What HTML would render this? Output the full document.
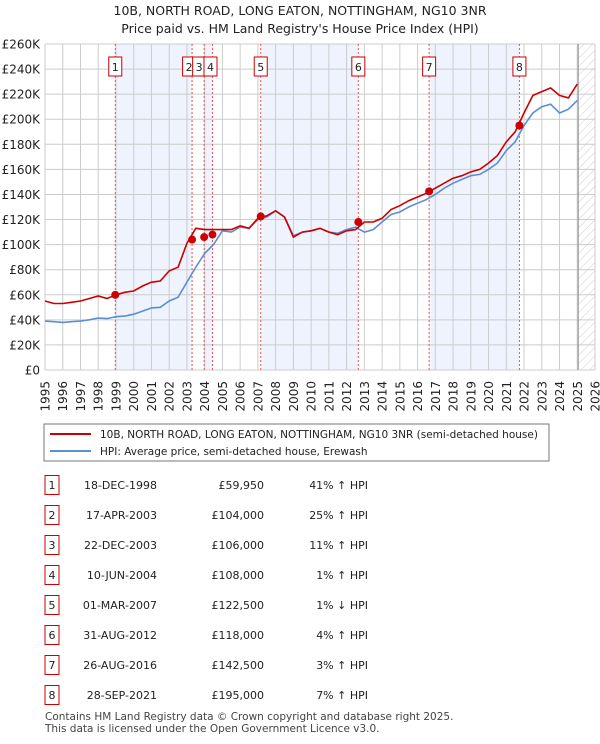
<!DOCTYPE html>
<html><head><meta charset="utf-8"><style>
body{margin:0;background:#fff;font-family:"DejaVu Sans","Liberation Sans",sans-serif;}
svg text{font-family:"DejaVu Sans","Liberation Sans",sans-serif;}
</style></head><body>
<svg id="c" width="600" height="740" xmlns="http://www.w3.org/2000/svg">
<defs><pattern id="hatch" width="6" height="6" patternUnits="userSpaceOnUse" patternTransform="rotate(45)"><line x1="0" y1="0" x2="0" y2="6" stroke="#ccc" stroke-width="1"/></pattern></defs>
<text x="300" y="15" text-anchor="middle" font-size="12.5" fill="#222">10B, NORTH ROAD, LONG EATON, NOTTINGHAM, NG10 3NR</text>
<text x="300" y="33" text-anchor="middle" font-size="12.5" fill="#222">Price paid vs. HM Land Registry's House Price Index (HPI)</text>
<g id="plot"></g>
<rect x="44" y="424" width="505" height="37" fill="#fff" stroke="#777"/>
<line x1="50" y1="434" x2="91" y2="434" stroke="#cc0000" stroke-width="2"/>
<text x="100" y="438" font-size="10.5" fill="#222">10B, NORTH ROAD, LONG EATON, NOTTINGHAM, NG10 3NR (semi-detached house)</text>
<line x1="50" y1="451" x2="91" y2="451" stroke="#5b8fd4" stroke-width="2"/>
<text x="100" y="455" font-size="10.5" fill="#222">HPI: Average price, semi-detached house, Erewash</text>
<g id="table"></g>
<text x="45" y="720" font-size="10.5" fill="#444">Contains HM Land Registry data © Crown copyright and database right 2025.</text>
<text x="45" y="732" font-size="10.5" fill="#444">This data is licensed under the Open Government Licence v3.0.</text>
</svg>
<script>
const years=[1995,1995.5,1996,1996.5,1997,1997.5,1998,1998.5,1999,1999.5,2000,2000.5,2001,2001.5,2002,2002.5,2003,2003.5,2004,2004.5,2005,2005.5,2006,2006.5,2007,2007.5,2008,2008.5,2009,2009.5,2010,2010.5,2011,2011.5,2012,2012.5,2013,2013.5,2014,2014.5,2015,2015.5,2016,2016.5,2017,2017.5,2018,2018.5,2019,2019.5,2020,2020.5,2021,2021.5,2022,2022.5,2023,2023.5,2024,2024.5,2025];
const hpiValues=[39,38.5,38,38.5,39,40,41.5,41,42.5,43,44.5,47,49.5,50,55,58,70,82,93,100,111,110,114,113,120,122,127,122,107,110,111,113,110,109,112,114,110,112,118,124,126,130,133,136,140,145,149,152,155,156,160,165,175,182,195,205,210,212,205,208,215];
const priceValues=[55,53,53,54,55,57,59,57,60,62,63,67,70,71,79,82,101,113,112,112,112,112,115,113,121,123,127,122,106,110,111,113,110,108,111,112,118,118,121,128,131,135,138,141,145,149,153,155,158,160,165,171,182,190,205,219,222,225,219,217,228];
const saleDates=[1998.96,2003.29,2003.97,2004.44,2007.16,2012.66,2016.65,2021.74];
const salePrices=[59.95,104,106,108,122.5,118,142.5,195];
const saleLabels=["1","2","3","4","5","6","7","8"];
const saleDateText=["18-DEC-1998","17-APR-2003","22-DEC-2003","10-JUN-2004","01-MAR-2007","31-AUG-2012","26-AUG-2016","28-SEP-2021"];
const salePriceText=["£59,950","£104,000","£106,000","£108,000","£122,500","£118,000","£142,500","£195,000"];
const saleHpiText=["41% ↑ HPI","25% ↑ HPI","11% ↑ HPI","1% ↑ HPI","1% ↓ HPI","4% ↑ HPI","3% ↑ HPI","7% ↑ HPI"];
const yTicks=[0,20,40,60,80,100,120,140,160,180,200,220,240,260];
const yTickLabels=["£0","£20K","£40K","£60K","£80K","£100K","£120K","£140K","£160K","£180K","£200K","£220K","£240K","£260K"];
const xTicks=[1995,1996,1997,1998,1999,2000,2001,2002,2003,2004,2005,2006,2007,2008,2009,2010,2011,2012,2013,2014,2015,2016,2017,2018,2019,2020,2021,2022,2023,2024,2025,2026];
const X0=45,X1=595,Y0=370,Y1=44;
const xs=v=>X0+(v-1995)/(2026-1995)*(X1-X0);
const ys=v=>Y0-v/260*(Y0-Y1);
const NS="http://www.w3.org/2000/svg";
function mk(tag,attrs,parent,txt){const e=document.createElementNS(NS,tag);for(const k in attrs)e.setAttribute(k,attrs[k]);if(txt!==undefined)e.textContent=txt;parent.appendChild(e);return e;}
const P=document.getElementById('plot');
// shaded bands
for(let i=0;i<saleDates.length;i+=2){
 const r=mk('rect',{x:xs(saleDates[i]),y:Y1,width:xs(saleDates[i+1])-xs(saleDates[i]),height:Y0-Y1,fill:'#eef3fd'},P);
 
 
}
const hx=xs(2025.05);
const hr=mk('rect',{x:hx,y:Y1,width:X1-hx,height:Y0-Y1,fill:'url(#hatch)'},P);


// grid
yTicks.forEach((t,i)=>{
 const l=mk('line',{x1:X0,x2:X1,y1:ys(t),y2:ys(t),stroke:'#cccccc','stroke-width':1},P);
 
 
 const tx=mk('text',{x:40,y:ys(t)+4.5,'text-anchor':'end','font-size':12,fill:'#222'},P,yTickLabels[i]);
 
 
});
xTicks.forEach(t=>{
 const l=mk('line',{x1:xs(t),x2:xs(t),y1:Y1,y2:Y0,stroke:'#cccccc','stroke-width':1},P);
 
 
 const tx=mk('text',{x:0,y:0,'text-anchor':'end','font-size':12,fill:'#222',transform:`translate(${xs(t)+4.5},381) rotate(-90)`},P,String(t));
 
 
});
const vl=mk('line',{x1:hx,x2:hx,y1:Y1,y2:Y0,stroke:'#888','stroke-width':1},P);


// sale dashed lines
saleDates.forEach(d=>{
 const l=mk('line',{x1:xs(d),x2:xs(d),y1:Y1,y2:Y0,stroke:'#ee5555','stroke-width':1,'stroke-dasharray':'2,2'},P);
 
 
});
// series
const pts=arr=>arr.map((v,i)=>xs(years[i]).toFixed(1)+','+ys(v).toFixed(1)).join(' ');
const hl=mk('polyline',{points:pts(hpiValues),fill:'none',stroke:'#5b8fd4','stroke-width':1.6},P);


const pl=mk('polyline',{points:pts(priceValues),fill:'none',stroke:'#cc0000','stroke-width':1.6},P);


const lblShift=[0,-3,-5,-2,0,0,0,0];
saleDates.forEach((d,i)=>{
 const c=mk('circle',{cx:xs(d),cy:ys(salePrices[i]),r:4,fill:'#cc0000'},P);
 
 
 const cx=xs(d)+lblShift[i]*1;
 const b=mk('rect',{x:cx-6.5,y:57,width:13,height:19,fill:'#fff',stroke:'#cc0000','stroke-width':1},P);
 
 
 const t=mk('text',{x:cx,y:71,'text-anchor':'middle','font-size':11,fill:'#222'},P,saleLabels[i]);
 
 
});
// table
const T=document.getElementById('table');
saleLabels.forEach((s,i)=>{
 const cy=485+i*30.0;
 const b=mk('rect',{x:45,y:cy-9.5,width:14,height:19,fill:'#fff',stroke:'#cc0000','stroke-width':1},T);
 
 
 const n=mk('text',{x:52,y:cy+4,'text-anchor':'middle','font-size':11,fill:'#222'},T,s);
 
 
 const d=mk('text',{x:157,y:cy+4,'text-anchor':'end','font-size':11,fill:'#222'},T,saleDateText[i]);
 
 
 const p=mk('text',{x:264,y:cy+4,'text-anchor':'end','font-size':11,fill:'#222'},T,salePriceText[i]);
 
 
 const h=mk('text',{x:368,y:cy+4,'text-anchor':'end','font-size':11,fill:'#222'},T,saleHpiText[i]);
 
 
});
</script>
</body></html>
